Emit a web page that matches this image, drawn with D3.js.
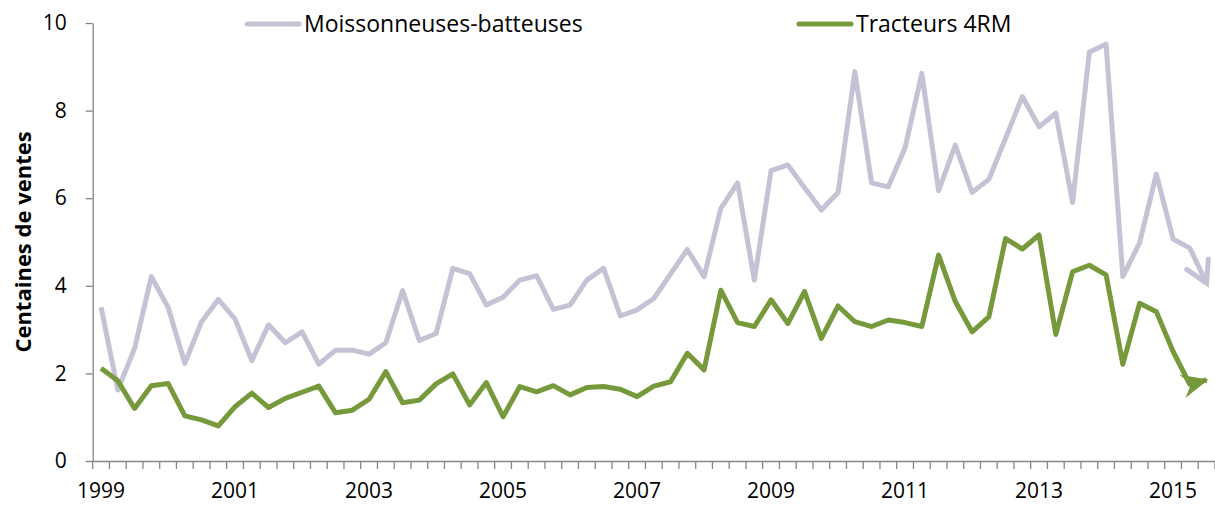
<!DOCTYPE html>
<html>
<head>
<meta charset="utf-8">
<script src="https://cdn.jsdelivr.net/npm/d3@7"></script>
<style>
  body { margin: 0; background: #fff; }
  svg { display: block; }
</style>
</head>
<body>
<div id="chart"></div>
<script>
// years on the axis (one category per quarter, plot runs to end of 2015)
var years = [1999,2000,2001,2002,2003,2004,2005,2006,2007,2008,2009,2010,2011,2012,2013,2014,2015];
var yTicks = [0, 2, 4, 6, 8, 10];
var seriesNames = ["Moissonneuses-batteuses", "Tracteurs 4RM"];

// centaines de ventes, trimestriel 1999T1 -> 2015T3
var moissonneuses = [3.51,1.62,2.57,4.21,3.51,2.23,3.18,3.69,3.24,2.29,3.11,2.70,2.95,2.21,2.53,2.53,2.44,
  2.70,3.89,2.75,2.91,4.40,4.28,3.56,3.74,4.13,4.23,3.46,3.56,4.13,4.40,3.31,3.45,3.71,
  4.27,4.83,4.21,5.77,6.35,4.13,6.63,6.76,6.24,5.73,6.13,8.89,6.35,6.26,7.15,8.85,6.17,7.21,
  6.13,6.43,7.37,8.32,7.63,7.94,5.90,9.33,9.52,4.21,4.98,6.55,5.07,4.86,4.06];
var tracteurs = [2.12,1.83,1.20,1.72,1.77,1.03,0.94,0.80,1.24,1.55,1.22,1.43,1.57,1.71,1.10,1.16,1.41,
  2.04,1.33,1.39,1.76,1.99,1.28,1.79,1.01,1.70,1.58,1.72,1.51,1.68,1.70,1.64,1.47,1.71,
  1.81,2.46,2.08,3.90,3.16,3.07,3.68,3.14,3.87,2.80,3.54,3.18,3.07,3.22,3.16,3.07,4.70,3.64,
  2.95,3.29,5.08,4.84,5.16,2.89,4.32,4.47,4.25,2.21,3.60,3.41,2.50,1.75,1.85];

var quarters = [];
years.forEach(function(y){
    [1,2,3,4].forEach(function(q){ quarters.push(y + "T" + q); });
});

var w = 1215, h = 507;
var gray = "#c3c3d5", green = "#76993b", axisColor = "#868686";
var font = "'Open Sans', sans-serif";

var svg = d3.select("#chart").append("svg")
    .attr("width", w).attr("height", h);

var x = d3.scaleBand().domain(quarters).range([92.7, 92.7 + quarters.length * 16.75]).padding(0);
var y = d3.scaleLinear().domain([0, 10]).range([461, 23]);
var bw = x.bandwidth();

// arrow heads at the line ends
var defs = svg.append("defs");
defs.append("marker")
    .attr("id", "arrowGray")
    .attr("markerUnits", "userSpaceOnUse")
    .attr("viewBox", "-30 -20 40 40")
    .attr("markerWidth", 40).attr("markerHeight", 40)
    .attr("refX", 0).attr("refY", 0)
    .attr("orient", "auto")
  .append("path")
    .attr("d", "M-21,-12L0,0L-21,12")
    .attr("fill", "none").attr("stroke", gray).attr("stroke-width", 5)
    .attr("stroke-linecap", "round");
defs.append("marker")
    .attr("id", "arrowGreen")
    .attr("markerUnits", "userSpaceOnUse")
    .attr("viewBox", "-30 -20 40 40")
    .attr("markerWidth", 40).attr("markerHeight", 40)
    .attr("refX", 0).attr("refY", 0)
    .attr("orient", "auto")
  .append("path")
    .attr("d", "M2,0L-25,-12L-16,0L-25,12Z")
    .attr("fill", green);

// y axis
var yAxis = svg.append("g")
    .attr("transform", "translate(92.7,0)")
    .call(d3.axisLeft(y).tickValues(yTicks).tickSize(7).tickSizeOuter(0).tickPadding(19));
yAxis.select(".domain").attr("stroke", axisColor).attr("stroke-width", 1.3);
yAxis.selectAll(".tick line").attr("stroke", axisColor).attr("stroke-width", 1.3);
yAxis.selectAll(".tick text").attr("font-family", font).attr("font-size", 21).attr("fill", "#000");

// x axis: ticks between the categories, a label every 2 years
var xAxis = svg.append("g")
    .attr("transform", "translate(0,461)")
    .call(d3.axisBottom(x).tickSize(8).tickSizeOuter(0).tickPadding(14)
        .tickFormat(function(d){
            var yr = +d.slice(0, 4);
            return (d.slice(5) === "1" && (yr - 1999) % 2 === 0) ? yr : "";
        }));
xAxis.select(".domain").attr("stroke", axisColor).attr("stroke-width", 1.3);
xAxis.selectAll(".tick line").attr("stroke", axisColor).attr("stroke-width", 1.3)
    .attr("x1", -bw / 2).attr("x2", -bw / 2);
xAxis.selectAll(".tick text").attr("font-family", font).attr("font-size", 21).attr("fill", "#000");

// axis title
svg.append("text")
    .attr("transform", "translate(31,242) rotate(-90)")
    .attr("text-anchor", "middle")
    .attr("font-family", font).attr("font-size", 22).attr("font-weight", "bold")
    .text("Centaines de ventes");

var line = d3.line()
    .x(function(d, i){ return x(quarters[i]) + bw / 2; })
    .y(function(d){ return y(d); });

svg.append("path")
    .datum(moissonneuses)
    .attr("d", line)
    .attr("fill", "none").attr("stroke", gray).attr("stroke-width", 5)
    .attr("stroke-linejoin", "round")
    .attr("marker-end", "url(#arrowGray)");

svg.append("path")
    .datum(tracteurs)
    .attr("d", line)
    .attr("fill", "none").attr("stroke", green).attr("stroke-width", 5)
    .attr("stroke-linejoin", "round")
    .attr("marker-end", "url(#arrowGreen)");

// legend
var legend = [
    {name: seriesNames[0], color: gray, x: 245},
    {name: seriesNames[1], color: green, x: 797}
];
var lg = svg.selectAll(".legend").data(legend).enter().append("g")
    .attr("class", "legend")
    .attr("transform", function(d){ return "translate(" + d.x + ",24)"; });
lg.append("line")
    .attr("x1", 2).attr("x2", 54).attr("y1", 0).attr("y2", 0)
    .attr("stroke", function(d){ return d.color; })
    .attr("stroke-width", 5).attr("stroke-linecap", "round");
lg.append("text")
    .attr("x", 59).attr("y", 0).attr("dy", "0.35em")
    .attr("font-family", font).attr("font-size", 23).attr("fill", "#000")
    .text(function(d){ return d.name; });
</script>
</body>
</html>
